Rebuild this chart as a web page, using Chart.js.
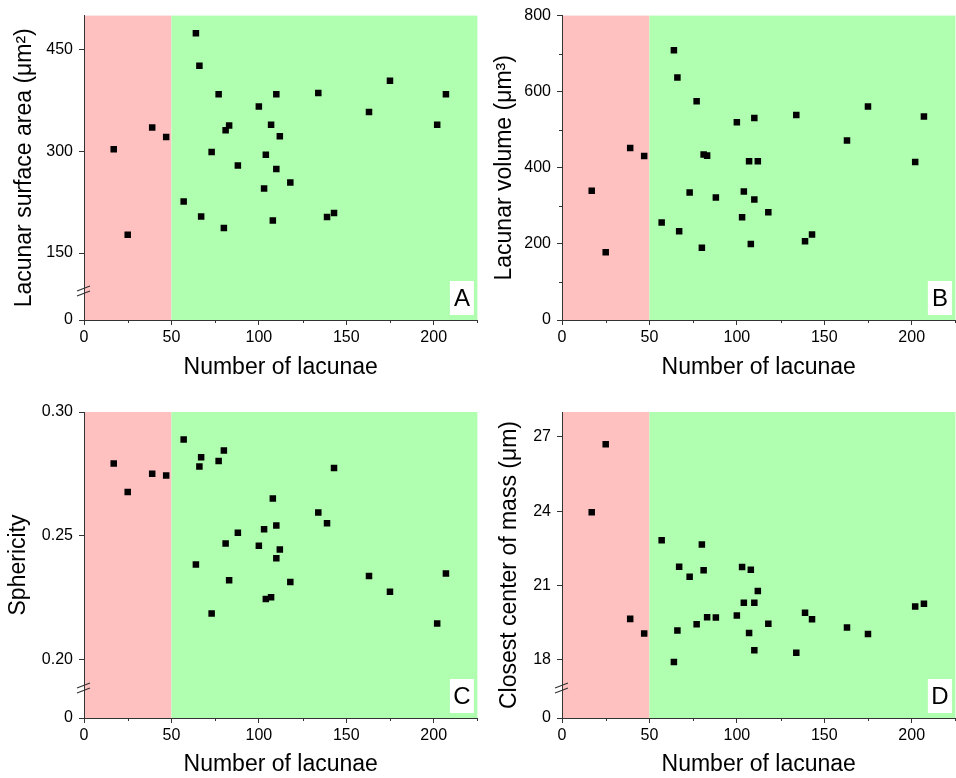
<!DOCTYPE html>
<html>
<head>
<meta charset="utf-8">
<title>Lacunae panels</title>
<script src="https://cdn.jsdelivr.net/npm/chart.js@4.4.0/dist/chart.umd.min.js"></script>
<style>
    body { margin: 0; background: #fff; overflow: hidden; }
    #wrap { position: relative; width: 956px; height: 778px; overflow: hidden; }
    #wrap canvas { position: absolute; }
</style>
</head>
<body>
<div id="wrap">
    <canvas id="chartA" width="482" height="389" style="left:0;top:0"></canvas>
    <canvas id="chartB" width="482" height="389" style="left:478px;top:0"></canvas>
    <canvas id="chartC" width="482" height="389" style="left:0;top:389px"></canvas>
    <canvas id="chartD" width="482" height="389" style="left:478px;top:389px"></canvas>
</div>
<script>
// values, one entry per sample
const lacunaeCount = [17, 25, 39, 47, 57, 64, 66, 67, 73, 77, 80, 81, 83, 88, 100, 103, 104, 107, 108, 110, 110, 112, 118, 134, 139, 143, 163, 175, 202, 207];
const surfaceArea = [303, 177, 335, 321, 226, 474, 426, 204, 299, 384, 187, 331, 338, 279, 366, 245, 295, 339, 198, 384, 274, 322, 254, 386, 203, 209, 358, 404, 339, 384];
const volume = [340, 178, 452, 431, 256, 709, 637, 233, 335, 575, 190, 435, 432, 322, 520, 270, 338, 417, 200, 531, 317, 417, 283, 539, 207, 225, 472, 561, 415, 535];
const sphericity = [0.2792, 0.2677, 0.2751, 0.2744, 0.2889, 0.2384, 0.2780, 0.2817, 0.2187, 0.2802, 0.2845, 0.2469, 0.2321, 0.2513, 0.2460, 0.2527, 0.2245, 0.2252, 0.2651, 0.2542, 0.2410, 0.2445, 0.2314, 0.2594, 0.2551, 0.2774, 0.2338, 0.2274, 0.2146, 0.2348];
const centerDistance = [23.95, 26.70, 19.65, 19.06, 22.82, 17.91, 19.18, 21.75, 21.35, 19.43, 22.65, 21.61, 19.72, 19.71, 19.79, 21.74, 20.30, 19.08, 21.63, 20.30, 18.38, 20.78, 19.45, 18.28, 19.90, 19.63, 19.30, 19.04, 20.15, 20.26];

// ticks and shaded zones
const xTicks = [0, 50, 100, 150, 200];
const xMinorTicks = [25, 75, 125, 175, 225];
const areaTicks = [150, 300, 450];
const volumeTicks = [0, 200, 400, 600, 800];
const volumeMinorTicks = [100, 300, 500, 700];
const sphericityTicks = [0.20, 0.25, 0.30];
const distanceTicks = [18, 21, 24, 27];
const zoneEdges = [0, 50, 225];

const FONT = "'Liberation Sans', Arial, sans-serif";
const AXIS = '#333';
Chart.defaults.font.family = FONT;

function tickList(values) {
    return s => { s.ticks = values.map(v => ({ value: v })); };
}

function yAxis(min, max, ticks, fmt) {
    return {
        type: 'linear', position: 'left', min: min, max: max,
        afterBuildTicks: tickList(ticks),
        afterFit: s => { s.width = 84; },
        grid: { drawOnChartArea: false, tickLength: 5, tickColor: AXIS },
        border: { color: AXIS, width: 1 },
        ticks: { color: '#000', font: { size: 16 }, padding: 6, callback: fmt || (v => v) }
    };
}

function makePanel(id, p) {
    const scales = {
        x: {
            type: 'linear', min: zoneEdges[0], max: zoneEdges[2],
            afterBuildTicks: tickList(xTicks),
            afterFit: s => { s.height = p.xHeight; },
            grid: { drawOnChartArea: false, tickLength: 5, tickColor: AXIS },
            border: { color: AXIS, width: 1 },
            ticks: { color: '#000', font: { size: 16 }, padding: 3, maxRotation: 0, autoSkip: false },
            title: { display: true, text: 'Number of lacunae', color: '#000', font: { size: 23 }, padding: { top: 0, bottom: p.xTitlePad } }
        }
    };
    // left boxes are laid out in reverse order: the lower part of a broken axis goes first
    if (p.lowerWeight) {
        scales.y0 = Object.assign(yAxis(0, 10, [0]), { stack: 'y', stackWeight: p.lowerWeight });
        scales.y = Object.assign(yAxis(p.yMin, p.yMax, p.yTicks, p.fmt), { stack: 'y', stackWeight: p.upperWeight });
    } else {
        scales.y = yAxis(p.yMin, p.yMax, p.yTicks, p.fmt);
    }

    const decor = {
        id: 'decor' + id,
        beforeDraw(chart) {
            const { ctx, chartArea: a, scales: { x } } = chart;
            const x0 = x.getPixelForValue(zoneEdges[0]);
            const x1 = x.getPixelForValue(zoneEdges[1]);
            const x2 = x.getPixelForValue(zoneEdges[2]);
            ctx.save();
            ctx.fillStyle = '#FFC0C0';
            ctx.fillRect(x0, a.top, x1 - x0, a.bottom - a.top);
            ctx.fillStyle = '#B0FFB0';
            ctx.fillRect(x1, a.top, x2 - x1, a.bottom - a.top);
            ctx.restore();
        },
        afterDraw(chart) {
            const { ctx, chartArea: a, scales } = chart;
            ctx.save();
            ctx.strokeStyle = AXIS;
            ctx.lineWidth = 1;
            // minor ticks
            ctx.beginPath();
            xMinorTicks.forEach(v => {
                const px = Math.round(scales.x.getPixelForValue(v)) + 0.5;
                if (px > a.right + 1) return;
                ctx.moveTo(px, a.bottom); ctx.lineTo(px, a.bottom + 3);
            });
            (p.yMinor || []).forEach(v => {
                const py = Math.round(scales.y.getPixelForValue(v)) + 0.5;
                ctx.moveTo(a.left, py); ctx.lineTo(a.left - 3, py);
            });
            ctx.stroke();

            // axis break marks
            if (p.lowerWeight) {
                const yb = scales.y.bottom;
                ctx.lineWidth = 1.2;
                ctx.beginPath();
                [-2.5, 2.5].forEach(d => {
                    ctx.moveTo(a.left - 7, yb + d + 2.5);
                    ctx.lineTo(a.left + 6, yb + d - 2.5);
                });
                ctx.stroke();
            }

            // y title
            ctx.fillStyle = '#000';
            ctx.font = '23px ' + FONT;
            ctx.textAlign = 'center';
            ctx.textBaseline = 'middle';
            ctx.translate(p.yTitleX, (a.top + a.bottom) / 2);
            ctx.rotate(-Math.PI / 2);
            ctx.fillText(p.yTitle, 0, 0);
            ctx.setTransform(1, 0, 0, 1, 0, 0);

            // panel letter
            const bw = 24, bh = 34;
            const bx = a.right - 3.5 - bw, by = a.bottom - 5 - bh;
            ctx.fillStyle = '#fff';
            ctx.fillRect(bx, by, bw, bh);
            ctx.fillStyle = '#000';
            ctx.font = '24px ' + FONT;
            ctx.fillText(p.letter, bx + bw / 2, by + bh / 2 + 1);
            ctx.restore();
        }
    };

    return new Chart(document.getElementById(id), {
        type: 'scatter',
        data: {
            datasets: [{
                data: lacunaeCount.map((n, i) => ({ x: n, y: p.values[i] })),
                yAxisID: 'y',
                pointStyle: 'rect',
                radius: 4.6,
                borderWidth: 0,
                backgroundColor: '#000'
            }]
        },
        options: {
            responsive: false,
            animation: false,
            devicePixelRatio: 1,
            events: [],
            layout: { padding: { top: p.top, right: 0, bottom: 0, left: 0 } },
            plugins: { legend: { display: false }, tooltip: { enabled: false } },
            scales: scales
        },
        plugins: [decor]
    });
}

makePanel('chartA', {
    values: surfaceArea, yTitle: 'Lacunar surface area (\u03bcm\u00b2)', letter: 'A', yTitleX: 24.3,
    top: 15, xHeight: 69, xTitlePad: 8,
    yMin: 94, yMax: 500, yTicks: areaTicks, upperWeight: 276, lowerWeight: 29
});
makePanel('chartB', {
    values: volume, yTitle: 'Lacunar volume (\u03bcm\u00b3)', letter: 'B', yTitleX: 26.3,
    top: 14.7, xHeight: 69, xTitlePad: 8,
    yMin: 0, yMax: 800, yTicks: volumeTicks, yMinor: volumeMinorTicks
});
makePanel('chartC', {
    values: sphericity, yTitle: 'Sphericity', letter: 'C', yTitleX: 18.5,
    top: 23, xHeight: 60, xTitlePad: 0,
    yMin: 0.1886, yMax: 0.30, yTicks: sphericityTicks, upperWeight: 276, lowerWeight: 30,
    fmt: v => v.toFixed(2)
});
makePanel('chartD', {
    values: centerDistance, yTitle: 'Closest center of mass (\u03bcm)', letter: 'D', yTitleX: 31.5,
    top: 23, xHeight: 60, xTitlePad: 0,
    yMin: 16.86, yMax: 28, yTicks: distanceTicks, upperWeight: 276, lowerWeight: 30
});
</script>
</body>
</html>
